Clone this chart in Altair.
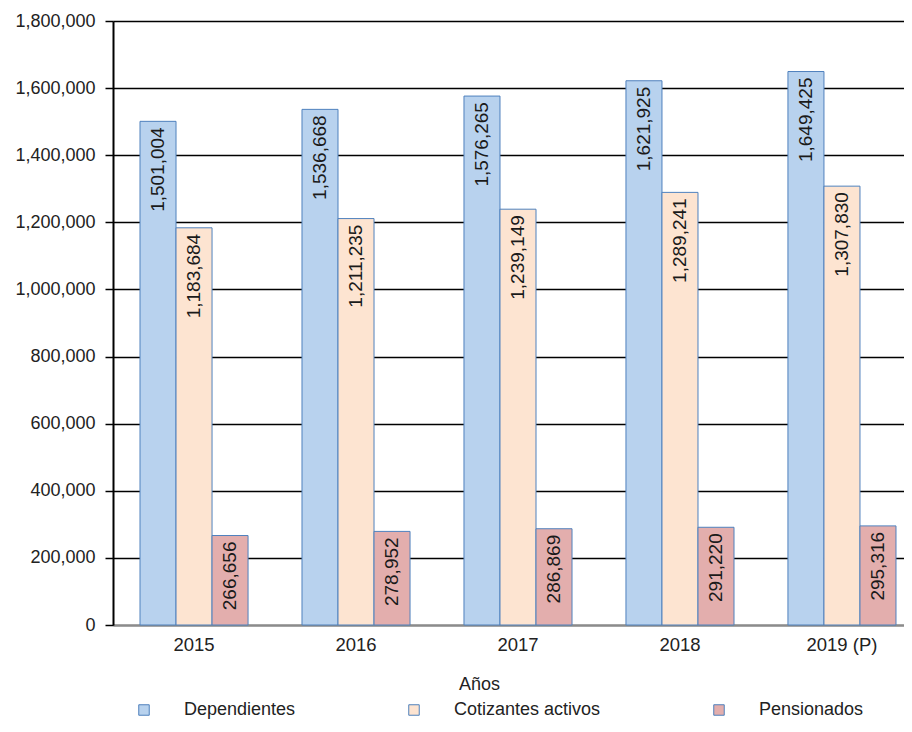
import altair as alt
import pandas as pd

years = ["2015", "2016", "2017", "2018", "2019 (P)"]
series = ["Dependientes", "Cotizantes activos", "Pensionados"]
dependientes = [1501004, 1536668, 1576265, 1621925, 1649425]
cotizantes = [1183684, 1211235, 1239149, 1289241, 1307830]
pensionados = [266656, 278952, 286869, 291220, 295316]
colors = ["#B8D2EE", "#FDE4D1", "#E3AEAD"]
y_ticks = [0, 200000, 400000, 600000, 800000, 1000000, 1200000, 1400000, 1600000, 1800000]

rows = []
for name, vals in zip(series, [dependientes, cotizantes, pensionados]):
    for yr, v in zip(years, vals):
        rows.append({"Año": yr, "Serie": name, "Valor": v})
df = pd.DataFrame(rows)

FONT = "Liberation Sans"

x_enc = alt.X(
    "Año:N",
    sort=years,
    scale=alt.Scale(range=[0, 810], paddingInner=0.333, paddingOuter=0.1667),
    axis=alt.Axis(
        title="Años",
        labelAngle=0,
        ticks=False,
        tickSize=0,
        labelPadding=10,
        labelFontSize=18.5,
        labelColor="#222222",
        labelFont=FONT,
        domainColor="#8c8c8c",
        domainWidth=2,
        grid=False,
        titleFontSize=18,
        titleFontWeight="normal",
        titleColor="#222222",
        titleFont=FONT,
        titleX=366,
        titleY=50,
        titleBaseline="top",
    ),
)
xoff = alt.XOffset("Serie:N", sort=series, scale=alt.Scale(paddingInner=0, paddingOuter=0))
y_enc = alt.Y(
    "Valor:Q",
    scale=alt.Scale(domain=[0, 1800000], nice=False),
    axis=alt.Axis(
        title=None,
        values=y_ticks,
        format=",d",
        labelFontSize=18,
        labelColor="#222222",
        labelFont=FONT,
        labelPadding=10,
        tickSize=8,
        tickColor="#000000",
        tickWidth=1.5,
        domainColor="#000000",
        domainWidth=2,
        grid=True,
        gridColor="#000000",
        gridWidth=1.3,
    ),
)

bars = alt.Chart(df).mark_bar(stroke="#4F81BD", strokeWidth=1).encode(
    x=x_enc,
    xOffset=xoff,
    y=y_enc,
    color=alt.Color(
        "Serie:N",
        sort=series,
        scale=alt.Scale(domain=series, range=colors),
        legend=alt.Legend(
            title=None,
            orient="none",
            legendX=22,
            legendY=680,
            direction="horizontal",
            symbolType="square",
            symbolSize=110,
            symbolStrokeColor="#4F81BD",
            symbolStrokeWidth=1,
            labelOffset=31,
            labelFontSize=18,
            labelColor="#222222",
            labelFont=FONT,
            columnPadding=109,
            padding=0,
            labelLimit=300,
        ),
    ),
)

labels = alt.Chart(df).mark_text(
    angle=270, align="right", baseline="middle", dx=-6,
    fontSize=19, font=FONT, color="#1a1a1a"
).encode(
    x=alt.X("Año:N", sort=years),
    xOffset=alt.XOffset("Serie:N", sort=series),
    y=alt.Y("Valor:Q"),
    text=alt.Text("Valor:Q", format=",d"),
)

chart = (
    alt.layer(bars, labels)
    .properties(
        width=791,
        height=604,
        autosize=alt.AutoSizeParams(type="none"),
        padding={"left": 105, "top": 13, "right": 0, "bottom": 99},
    )
    .configure_view(stroke=None)
    .configure(background="white")
)

chart.save("out.html", embed_options={"renderer": "svg", "actions": False})
